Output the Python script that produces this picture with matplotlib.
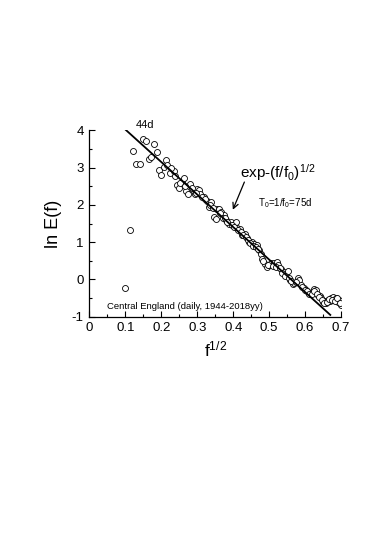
import numpy as np
import matplotlib.pyplot as plt
from matplotlib.ticker import MultipleLocator

plt.rcParams["font.family"] = ["Liberation Sans", "DejaVu Sans"]
plt.rcParams["mathtext.fontset"] = "custom"
plt.rcParams["mathtext.rm"] = "Liberation Sans"
plt.rcParams["mathtext.it"] = "Liberation Sans"
plt.rcParams["axes.unicode_minus"] = False

# f^(1/2) and ln E(f)
sqrt_f = [0.100, 0.112, 0.121, 0.130, 0.141, 0.149, 0.158, 0.167, 0.171, 0.181,
          0.188, 0.193, 0.200, 0.207, 0.212, 0.216, 0.223, 0.235, 0.239, 0.244,
          0.248, 0.258, 0.263, 0.270, 0.274, 0.281, 0.288, 0.293, 0.300, 0.304,
          0.309, 0.318, 0.326, 0.332, 0.339, 0.346, 0.351, 0.356, 0.360, 0.367,
          0.374, 0.381, 0.388, 0.393, 0.400, 0.407, 0.411, 0.418, 0.424, 0.432,
          0.438, 0.444, 0.451, 0.458, 0.465, 0.472, 0.477, 0.481, 0.488, 0.493,
          0.500, 0.506, 0.514, 0.521, 0.525, 0.533, 0.540, 0.547, 0.551, 0.559,
          0.565, 0.570, 0.579, 0.584, 0.588, 0.596, 0.602, 0.609, 0.616, 0.621,
          0.626, 0.630, 0.635, 0.640, 0.644, 0.649, 0.654, 0.658, 0.663, 0.668,
          0.672, 0.677, 0.681, 0.686, 0.691, 0.695, 0.700,
          0.228, 0.252, 0.266, 0.285, 0.297, 0.313, 0.322, 0.336, 0.343, 0.363,
          0.371, 0.378, 0.384, 0.397, 0.403, 0.414, 0.421, 0.428, 0.435, 0.441,
          0.448, 0.455, 0.462, 0.468, 0.484, 0.497, 0.510, 0.518, 0.529, 0.537,
          0.544, 0.555, 0.562, 0.574, 0.592, 0.599, 0.605, 0.612, 0.618, 0.624,
          0.633, 0.638, 0.647, 0.652, 0.661, 0.666, 0.675, 0.684, 0.689, 0.698]
ln_E = [-0.22, 1.32, 3.44, 3.09, 3.09, 3.77, 3.70, 3.24, 3.29, 3.62,
        3.42, 2.93, 2.80, 3.02, 3.20, 3.08, 2.86, 2.90, 2.78, 2.53,
        2.44, 2.62, 2.72, 2.37, 2.28, 2.55, 2.39, 2.29, 2.43, 2.39,
        2.30, 2.20, 2.11, 1.95, 2.08, 1.68, 1.63, 1.88, 1.90, 1.81,
        1.72, 1.59, 1.50, 1.54, 1.45, 1.54, 1.37, 1.34, 1.19, 1.23,
        1.10, 1.01, 1.01, 0.96, 0.92, 0.79, 0.68, 0.56, 0.41, 0.34,
        0.38, 0.43, 0.43, 0.47, 0.38, 0.27, 0.21, 0.16, 0.23, -0.02,
        -0.11, -0.09, 0.04, -0.02, -0.15, -0.24, -0.29, -0.33, -0.36, -0.33,
        -0.26, -0.29, -0.42, -0.45, -0.51, -0.60, -0.57, -0.64, -0.54, -0.57,
        -0.49, -0.46, -0.55, -0.51, -0.60, -0.55, -0.69,
        2.98, 2.58, 2.50, 2.45, 2.33, 2.22, 2.15, 2.00, 1.92, 1.78,
        1.66, 1.64, 1.55, 1.47, 1.40, 1.32, 1.28, 1.18, 1.14, 1.05,
        0.98, 0.90, 0.86, 0.82, 0.50, 0.40, 0.36, 0.33, 0.30, 0.18,
        0.10, 0.05, -0.05, -0.08, -0.20, -0.27, -0.31, -0.38, -0.40, -0.30,
        -0.40, -0.48, -0.55, -0.63, -0.60, -0.52, -0.56, -0.58, -0.50, -0.62]

fit_x = [0.100, 0.670]
fit_y = [4.02, -0.95]

fig = plt.figure(figsize=(3.74, 5.36), dpi=100)
ax = fig.add_axes([0.239, 0.409, 0.673, 0.348])

ax.plot(sqrt_f, ln_E, "o", ms=4.3, mfc="white", mec="black", mew=0.6, zorder=2)
ax.plot(fit_x, fit_y, color="black", lw=1.3, zorder=3)

ax.set_xlim(0, 0.7)
ax.set_ylim(-1, 4)
ax.xaxis.set_minor_locator(MultipleLocator(0.05))
ax.yaxis.set_major_locator(MultipleLocator(1))
ax.yaxis.set_minor_locator(MultipleLocator(0.5))
ax.set_xticks(np.arange(0, 0.71, 0.1))
ax.set_xticklabels(["0", "0.1", "0.2", "0.3", "0.4", "0.5", "0.6", "0.7"])
ax.tick_params(which="both", direction="in", labelsize=9.5, width=0.8, pad=4)
ax.tick_params(which="major", length=4)
ax.tick_params(which="minor", length=2)
for side in ("top", "right"):
    ax.spines[side].set_visible(False)
ax.spines["left"].set_linewidth(0.9)
ax.spines["bottom"].set_linewidth(0.9)

ax.set_xlabel("f$^{1/2}$", fontsize=12.5, labelpad=4)
ax.set_ylabel("ln E(f)", fontsize=13, labelpad=7)

ax.text(0.128, 4.0, "44d", fontsize=8, va="bottom")
ax.text(0.42, 2.72, "exp-(f/f$_0$)$^{1/2}$", fontsize=11)
ax.annotate("", xy=(0.396, 1.80), xytext=(0.434, 2.68),
            arrowprops=dict(arrowstyle="->", color="black", lw=0.9))
ax.text(0.468, 2.05, "T$_0$=1/f$_0$=75d", fontsize=7, va="center")
ax.text(0.048, -0.73, "Central England (daily, 1944-2018yy)", fontsize=6.8, va="center")

fig.savefig("out.png", dpi=100)
